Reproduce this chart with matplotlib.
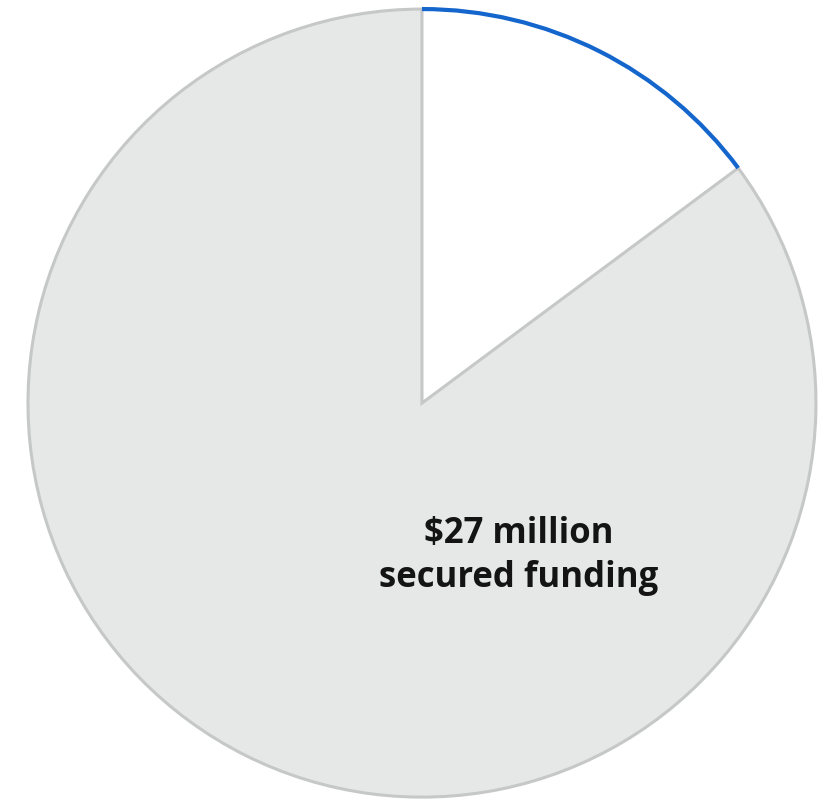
import matplotlib.pyplot as plt
from matplotlib.patches import Arc

# funding split, $ millions
labels = ["Remaining", "Secured"]
values = [4.7, 27]
colors = ["white", "#e6e8e8"]

fig = plt.figure(figsize=(8.27, 8.05), dpi=100)
ax = fig.add_axes([0, 0, 1, 1])

wedges, _ = ax.pie(values, colors=colors, startangle=90, counterclock=False,
                   radius=1, center=(0, 0),
                   wedgeprops=dict(edgecolor="#c6c8c8", linewidth=2.2))
wedges[0].set_edgecolor("none")
wedges[0].set_zorder(1)
wedges[1].set_zorder(2)

# blue outline along the open slice
w = wedges[0]
arc = Arc((0, 0), 2, 2, theta1=w.theta1, theta2=w.theta2,
          color="#1466cc", linewidth=3, zorder=3)
ax.add_patch(arc)

ax.text(0.246, -0.387, "$27 million\nsecured funding", ha="center", va="center",
        fontsize=25, fontweight="bold", family="Open Sans", color="#141414",
        linespacing=1.3, zorder=4)

ax.set_xlim(-1.071, 1.028)
ax.set_ylim(-1.020, 1.023)
ax.set_aspect("auto")
ax.axis("off")

fig.savefig("out.png", dpi=100, facecolor="white")
